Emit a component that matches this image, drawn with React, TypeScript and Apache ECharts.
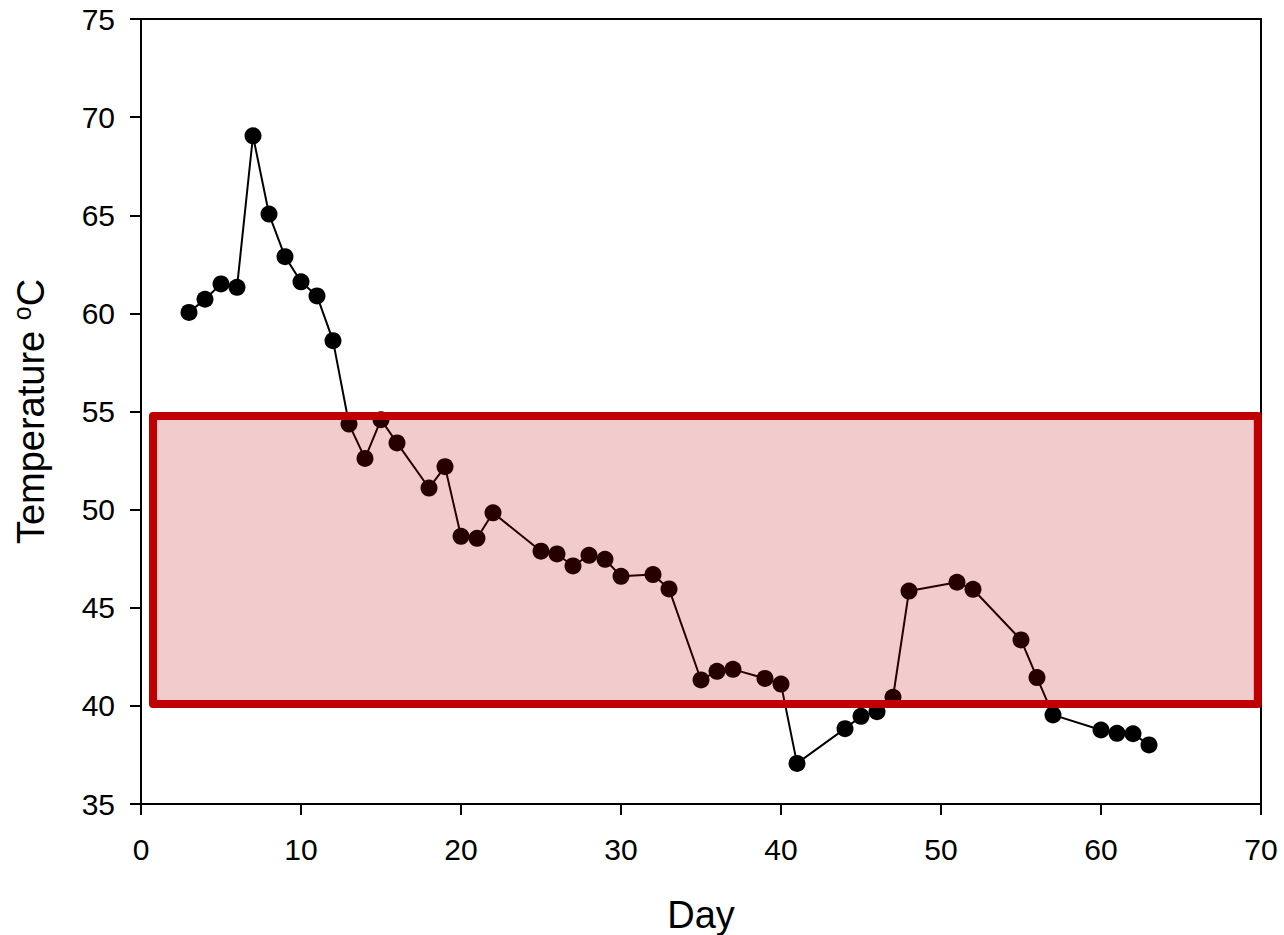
import React, { useEffect, useRef } from "react";
import * as echarts from "echarts";

const days = [3, 4, 5, 6, 7, 8, 9, 10, 11, 12, 13, 14, 15, 16, 18, 19, 20, 21, 22, 25, 26, 27, 28, 29, 30, 32, 33, 35, 36, 37, 39, 40, 41, 44, 45, 46, 47, 48, 51, 52, 55, 56, 57, 60, 61, 62, 63];
const temps = [60.05, 60.72, 61.5, 61.33, 69.05, 65.06, 62.89, 61.61, 60.89, 58.61, 54.36, 52.61, 54.58, 53.4, 51.1, 52.19, 48.64, 48.54, 49.84, 47.88, 47.74, 47.13, 47.67, 47.47, 46.6, 46.69, 45.96, 41.32, 41.76, 41.86, 41.4, 41.11, 37.07, 38.84, 39.47, 39.7, 40.44, 45.85, 46.3, 45.94, 43.36, 41.44, 39.54, 38.77, 38.6, 38.58, 38.01];
// highlighted band: [dayStart, tempTop, dayEnd, tempBottom]
const bandBox = [0.75, 54.77, 69.8, 40.1];

const FONT = "'Liberation Sans', Arial, sans-serif";

export default function App() {
  const ref = useRef<HTMLDivElement>(null);
  useEffect(() => {
    if (!ref.current) return;
    const chart = echarts.init(ref.current, null, { renderer: "svg" });
    const points = days.map((d, i) => [d, temps[i]]);
    chart.setOption({
      animation: false,
      backgroundColor: "#ffffff",
      grid: {
        left: 141,
        top: 19,
        right: 23,
        bottom: 131,
        containLabel: false,
        outerBoundsMode: "none",
        show: true,
        borderColor: "#000",
        borderWidth: 2,
        backgroundColor: "transparent",
      },
      xAxis: {
        type: "value",
        min: 0,
        max: 70,
        interval: 10,
        name: "Day",
        nameLocation: "middle",
        nameGap: 92,
        nameTextStyle: { fontFamily: FONT, fontSize: 38, color: "#000" },
        axisLine: { show: true, onZero: false, lineStyle: { color: "#000", width: 2 } },
        axisTick: { show: true, length: 11, lineStyle: { color: "#000", width: 2 } },
        axisLabel: { margin: 30, fontFamily: FONT, fontSize: 30, color: "#000" },
        splitLine: { show: false },
      },
      yAxis: {
        type: "value",
        min: 35,
        max: 75,
        interval: 5,
        name: "{t|Temperature }{o|o}{t|C}",
        nameLocation: "middle",
        nameGap: 88,
        nameTextStyle: {
          fontFamily: FONT,
          color: "#000",
          rich: {
            t: { fontFamily: FONT, fontSize: 38, color: "#000", lineHeight: 44 },
            o: { fontFamily: FONT, fontSize: 25, color: "#000", verticalAlign: "top", lineHeight: 44 },
          },
        },
        axisLine: { show: true, onZero: false, lineStyle: { color: "#000", width: 2 } },
        axisTick: { show: true, length: 11, lineStyle: { color: "#000", width: 2 } },
        axisLabel: { margin: 26, fontFamily: FONT, fontSize: 30, color: "#000" },
        splitLine: { show: false },
      },
      series: [
        {
          type: "line",
          data: points,
          symbol: "circle",
          symbolSize: 17,
          lineStyle: { color: "#000", width: 2 },
          itemStyle: { color: "#000" },
          z: 2,
        },
        {
          type: "custom",
          data: [bandBox],
          encode: { x: [0, 2], y: [1, 3] },
          z: 10,
          renderItem: (params: any, api: any) => {
            const p1 = api.coord([api.value(0), api.value(1)]);
            const p2 = api.coord([api.value(2), api.value(3)]);
            return {
              type: "rect",
              shape: { x: p1[0], y: p1[1], width: p2[0] - p1[0], height: p2[1] - p1[1] },
              style: {
                fill: "rgba(192,0,0,0.2)",
                stroke: "#c00000",
                lineWidth: 8,
                lineJoin: "round",
              },
            };
          },
        },
      ],
    });
    return () => chart.dispose();
  }, []);
  return (
    <div
      ref={ref}
      style={{ position: "absolute", left: 0, top: 0, width: 1284, height: 935 }}
    />
  );
}
